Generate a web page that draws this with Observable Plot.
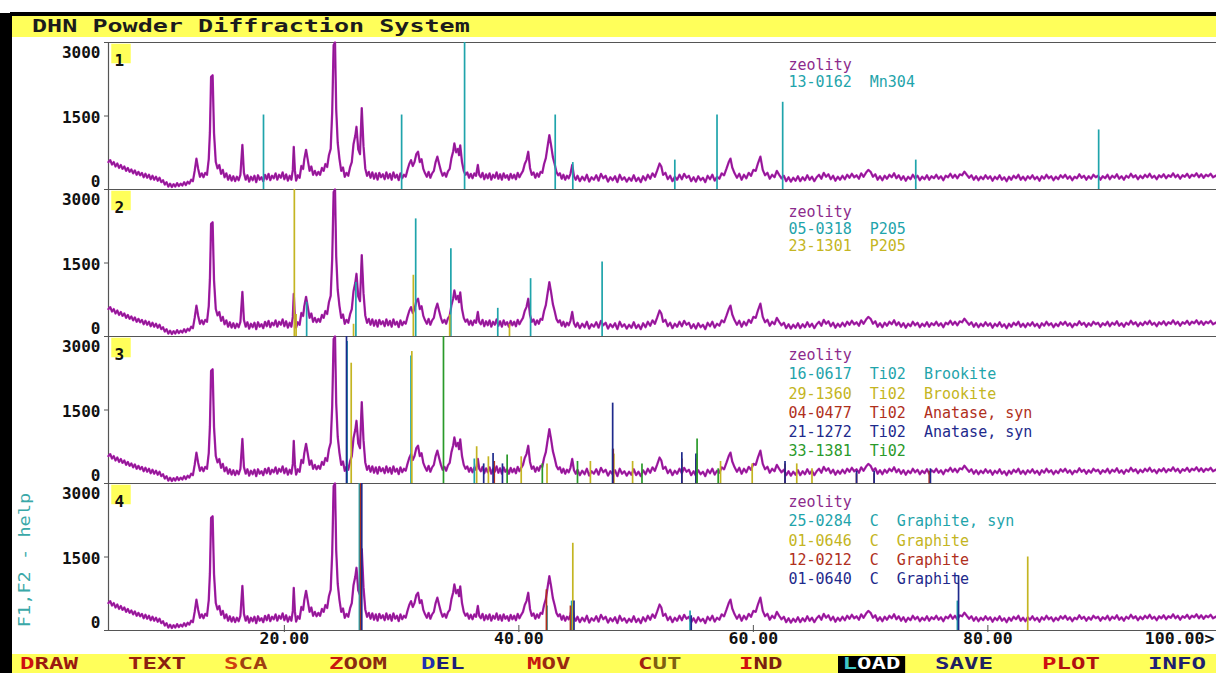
<!DOCTYPE html>
<html>
<head>
<meta charset="utf-8">
<script src="https://cdn.jsdelivr.net/npm/d3@7"></script>
<script src="https://cdn.jsdelivr.net/npm/@observablehq/plot@0.6"></script>
<style>
  html, body { margin:0; padding:0; width:1216px; height:673px; overflow:hidden; background:#fff; }
  .abs { position:absolute; }
  .bar { position:absolute; background:#ffff5a; }
  .dos { position:absolute; font-family:"DejaVu Sans Mono", monospace; white-space:pre; transform-origin:0 0; }
  #chart { position:absolute; left:0; top:0; }
  #chart svg { display:block; overflow:hidden; background:transparent; }
  #chart svg text { white-space: pre; }
</style>
</head>
<body>
<div class="abs" style="left:0;top:13px;width:12px;height:660px;background:#000"></div>
<div class="abs" style="left:10px;top:12px;width:1206px;height:4px;background:#000"></div>
<div class="bar" style="left:12px;top:16px;width:1204px;height:21px"></div>
<div class="dos" style="left:32px;top:17px;font-size:18px;line-height:18px;font-weight:bold;color:#1c1c1c;transform:scaleX(1.393)">DHN Powder Diffraction System</div>
<div class="bar" id="menu" style="left:12px;top:654px;width:1204px;height:19px"></div>
<div class="dos" id="help" style="left:25px;top:560px;font-size:15px;line-height:15px;color:#3aa8a8;transform:translate(-50%,-50%) rotate(-90deg) scaleX(1.24);transform-origin:center">F1,F2 - help</div>
<div id="chart"></div>
<script>
// ---------- data ----------
const sampleName = "zeolity";
const panels = [1, 2, 3, 4];
const yTicks = [0, 1500, 3000];
const xTicks = [20, 40, 60, 80, 100];
const xDomain = [5, 99.5];

// zeolite pattern: [2theta, counts]
const zeolity = [
[5.0,560],[5.15,600],[5.3,510],[5.45,560],[5.6,470],[5.75,530],[5.9,440],[6.05,500],[6.2,420],[6.35,470],[6.5,380],[6.65,440],[6.8,360],[6.95,410],[7.1,330],[7.25,390],[7.4,300],[7.55,360],[7.7,290],[7.85,340],[8.0,250],[8.15,320],[8.3,240],[8.45,300],[8.6,210],[8.75,280],[8.9,200],[9.05,260],[9.2,180],[9.35,240],[9.5,150],[9.65,190],[9.8,100],[9.95,150],[10.1,60],[10.25,120],[10.4,50],[10.55,110],[10.7,60],[10.85,130],[11.0,70],[11.15,120],[11.3,80],[11.45,150],[11.6,90],[11.75,160],[11.9,120],[12.05,200],[12.2,170],[12.35,380],[12.5,630],[12.65,420],[12.8,260],[12.95,330],[13.1,250],[13.25,340],[13.4,300],[13.55,620],[13.65,1170],[13.75,2300],[13.88,2330],[14.0,1150],[14.15,560],[14.3,430],[14.45,500],[14.6,320],[14.75,400],[14.9,250],[15.05,330],[15.2,200],[15.35,290],[15.5,180],[15.65,270],[15.8,170],[15.95,260],[16.1,190],[16.25,300],[16.42,910],[16.55,340],[16.7,200],[16.85,290],[17.0,160],[17.15,260],[17.3,190],[17.45,280],[17.6,150],[17.75,290],[17.9,200],[18.05,250],[18.2,170],[18.35,300],[18.5,210],[18.65,320],[18.8,190],[18.95,280],[19.1,230],[19.25,330],[19.4,200],[19.55,300],[19.7,240],[19.85,350],[20.0,210],[20.15,310],[20.3,180],[20.45,280],[20.6,200],[20.72,400],[20.8,870],[20.9,380],[21.0,180],[21.15,290],[21.3,240],[21.45,480],[21.6,420],[21.7,620],[21.85,810],[22.0,600],[22.15,380],[22.3,470],[22.45,300],[22.6,380],[22.75,290],[22.9,360],[23.05,300],[23.2,440],[23.35,380],[23.5,520],[23.65,460],[23.8,700],[23.95,830],[24.08,1580],[24.2,2950],[24.32,3000],[24.42,1640],[24.55,950],[24.7,620],[24.85,380],[25.0,450],[25.15,260],[25.3,340],[25.45,280],[25.6,450],[25.75,560],[25.9,930],[26.05,1100],[26.15,1280],[26.3,820],[26.45,720],[26.6,1660],[26.75,880],[26.9,430],[27.05,280],[27.2,360],[27.35,240],[27.5,350],[27.65,220],[27.8,330],[27.95,200],[28.1,340],[28.25,250],[28.4,310],[28.55,210],[28.7,350],[28.85,230],[29.0,320],[29.15,200],[29.3,350],[29.45,240],[29.6,300],[29.75,190],[29.9,330],[30.05,230],[30.2,300],[30.35,260],[30.5,400],[30.65,520],[30.8,600],[30.95,480],[31.1,560],[31.25,720],[31.4,770],[31.55,560],[31.7,620],[31.85,420],[32.0,330],[32.15,260],[32.3,360],[32.45,240],[32.6,330],[32.75,380],[32.9,560],[33.05,670],[33.2,520],[33.35,380],[33.5,280],[33.65,340],[33.8,260],[33.95,370],[34.1,420],[34.25,640],[34.4,780],[34.5,940],[34.65,760],[34.8,830],[34.9,700],[35.0,900],[35.15,560],[35.3,380],[35.45,300],[35.6,350],[35.75,240],[35.9,320],[36.05,230],[36.2,330],[36.35,280],[36.5,500],[36.62,300],[36.75,250],[36.9,340],[37.05,210],[37.2,310],[37.35,230],[37.5,330],[37.65,200],[37.8,300],[37.95,240],[38.1,350],[38.25,220],[38.4,310],[38.55,200],[38.7,330],[38.85,240],[39.0,290],[39.15,200],[39.3,320],[39.45,230],[39.6,300],[39.75,210],[39.9,340],[40.05,250],[40.2,320],[40.35,380],[40.5,520],[40.65,600],[40.8,770],[40.95,440],[41.1,300],[41.25,350],[41.4,240],[41.55,330],[41.7,260],[41.85,360],[42.0,340],[42.15,520],[42.3,640],[42.45,880],[42.6,1110],[42.75,900],[42.9,660],[43.05,520],[43.2,360],[43.35,290],[43.5,330],[43.65,220],[43.8,300],[43.95,200],[44.1,280],[44.25,230],[44.4,320],[44.55,500],[44.7,270],[44.85,200],
[45.0,280],[45.2,170],[45.4,260],[45.6,190],[45.8,300],[46.0,160],[46.2,250],[46.4,200],[46.6,290],[46.8,180],[47.0,320],[47.2,230],[47.4,280],[47.6,160],[47.8,250],[48.0,190],[48.2,270],[48.4,150],[48.6,300],[48.8,200],[49.0,250],[49.2,160],[49.4,240],[49.6,180],[49.8,290],[50.0,170],[50.2,240],[50.4,150],[50.6,270],[50.8,190],[51.0,300],[51.2,220],[51.4,330],[51.6,260],[51.8,390],[52.0,530],[52.15,470],[52.3,300],[52.5,340],[52.7,210],[52.9,280],[53.1,170],[53.3,260],[53.5,200],[53.7,300],[53.9,210],[54.1,320],[54.3,240],[54.5,280],[54.7,170],[54.9,250],[55.1,160],[55.3,270],[55.5,190],[55.7,240],[55.9,150],[56.1,280],[56.3,210],[56.5,300],[56.7,180],[56.9,260],[57.1,220],[57.3,330],[57.5,290],[57.7,420],[57.9,560],[58.05,630],[58.2,450],[58.4,330],[58.6,240],[58.8,320],[59.0,200],[59.2,300],[59.4,230],[59.6,340],[59.8,280],[60.0,400],[60.2,380],[60.4,540],[60.6,670],[60.8,400],[61.0,290],[61.2,340],[61.4,220],[61.6,300],[61.8,250],[62.0,380],[62.2,300],[62.4,230],[62.6,280],[62.8,170],[63.0,250],[63.2,160],[63.4,240],[63.6,180],[63.8,270],[64.0,170],[64.2,250],[64.4,190],[64.6,290],[64.8,200],[65.0,260],[65.2,170],[65.4,250],[65.6,300],[65.8,220],[66.0,340],[66.2,260],[66.4,310],[66.6,210],[66.8,280],[67.0,180],[67.2,260],[67.4,200],[67.6,280],[67.8,210],[68.0,300],[68.2,240],[68.4,320],[68.6,250],[68.8,290],[69.0,220],[69.2,330],[69.4,260],[69.6,340],[69.8,400],[70.0,360],[70.2,260],[70.4,310],[70.6,200],[70.8,270],[71.0,190],[71.2,280],[71.4,220],[71.6,300],[71.8,250],[72.0,330],[72.2,230],[72.4,290],[72.6,200],[72.8,270],[73.0,180],[73.2,260],[73.4,210],[73.6,300],[73.8,230],[74.0,280],[74.2,190],[74.4,260],[74.6,210],[74.8,290],[75.0,200],[75.2,270],[75.4,230],[75.6,300],[75.8,220],[76.0,270],[76.2,190],[76.4,280],[76.6,250],[76.8,320],[77.0,240],[77.2,300],[77.4,230],[77.6,310],[77.8,290],[78.0,365],[78.2,300],[78.4,240],[78.6,290],[78.8,200],[79.0,270],[79.2,190],[79.4,260],[79.6,210],[79.8,290],[80.0,220],[80.2,270],[80.4,180],[80.6,260],[80.8,210],[81.0,290],[81.2,200],[81.4,250],[81.6,170],[81.8,260],[82.0,200],[82.2,280],[82.4,230],[82.6,300],[82.8,200],[83.0,260],[83.2,190],[83.4,270],[83.6,220],[83.8,290],[84.0,210],[84.2,260],[84.4,180],[84.6,270],[84.8,220],[85.0,300],[85.2,230],[85.4,270],[85.6,190],[85.8,260],[86.0,210],[86.2,290],[86.4,240],[86.6,300],[86.8,220],[87.0,270],[87.2,190],[87.4,260],[87.6,230],[87.8,310],[88.0,240],[88.2,280],[88.4,200],[88.6,270],[88.8,220],[89.0,300],[89.2,250],[89.4,280],[89.6,200],[89.8,270],[90.0,230],[90.2,300],[90.4,210],[90.6,280],[90.8,240],[91.0,310],[91.2,220],[91.4,270],[91.6,200],[91.8,280],[92.0,240],[92.2,320],[92.4,250],[92.6,290],[92.8,210],[93.0,280],[93.2,230],[93.4,300],[93.6,250],[93.8,320],[94.0,240],[94.2,280],[94.4,210],[94.6,290],[94.8,250],[95.0,310],[95.2,230],[95.4,290],[95.6,260],[95.8,330],[96.0,250],[96.2,300],[96.4,220],[96.6,290],[96.8,260],[97.0,320],[97.2,240],[97.4,300],[97.6,270],[97.8,330],[98.0,250],[98.2,310],[98.4,240],[98.6,300],[98.8,270],[99.0,320],[99.2,250],[99.5,290]
];

// reference cards (stick patterns), [2theta, intensity]
const lines_13_0162 = [[18.22,1520],[30.0,1520],[35.37,3000],[43.1,1520],[44.6,550],[53.3,600],[56.9,1520],[62.5,1780],[73.85,600],[89.45,1215]];
const lines_05_0318 = [[21.9,700],[26.1,1100],[31.2,2400],[34.2,1790],[38.2,575],[41.0,1180],[47.1,1520]];
const lines_23_1301 = [[20.85,3000],[21.0,450],[31.0,1250],[34.1,440],[25.9,250],[39.2,250]];
const lines_16_0617 = [[25.35,2900],[30.8,2600],[36.2,500],[48.0,700],[55.2,600]];
const lines_29_1360 = [[25.7,2455],[30.87,2693],[36.4,750],[37.4,545],[40.2,545],[42.4,400],[46.1,450],[48.1,600],[49.7,450],[55.2,500],[57.2,450],[59.9,400],[63.7,400],[65.0,300]];
const lines_04_0477 = [[37.9,450],[48.05,700],[53.9,500],[55.1,500],[62.7,400],[68.8,200],[70.3,200],[75.0,250]];
const lines_21_1272 = [[25.3,3000],[37.0,400],[37.8,614],[38.6,400],[48.0,1640],[53.9,630],[55.1,600],[62.7,450],[68.8,250],[70.3,250],[75.1,300]];
const lines_33_1381 = [[33.57,3000],[39.0,580],[42.0,400],[45.0,450],[50.5,400],[55.2,910],[57.0,300]];
const lines_25_0284 = [[26.4,3000],[42.4,500],[44.5,600],[54.6,400],[77.4,600]];
const lines_01_0646 = [[26.55,3000],[44.6,1780],[83.4,1500]];
const lines_12_0212 = [[26.5,3000],[42.35,830],[44.4,500]];
const lines_01_0640 = [[26.6,3000],[44.7,600],[54.7,300],[77.5,1115]];

const cyan = "#1fa4ab", yellow = "#c4b522", red = "#b0301c", blue = "#1e2a8c", green = "#2a9a2a";
const purple = "#b01cb2", purpleDark = "#7a1e7e", purpleText = "#8c2a8c";

const cardPanel   = [1, 2, 2, 3, 3, 3, 3, 3, 4, 4, 4, 4];
const cardCode    = ["13-0162","05-0318","23-1301","16-0617","29-1360","04-0477","21-1272","33-1381","25-0284","01-0646","12-0212","01-0640"];
const cardFormula = ["Mn304","P205","P205","Ti02","Ti02","Ti02","Ti02","Ti02","C","C","C","C"];
const cardName    = ["","","","Brookite","Brookite","Anatase, syn","Anatase, syn","","Graphite, syn","Graphite","Graphite","Graphite"];
const cardColor   = [cyan, cyan, yellow, cyan, yellow, red, blue, green, cyan, yellow, red, blue];
const cardLines   = [lines_13_0162, lines_05_0318, lines_23_1301, lines_16_0617, lines_29_1360, lines_04_0477, lines_21_1272, lines_33_1381, lines_25_0284, lines_01_0646, lines_12_0212, lines_01_0640];

const menuItems = ["DRAW","TEXT","SCA","ZOOM","DEL","MOV","CUT","IND","LOAD","SAVE","PLOT","INFO"];

// ---------- layout / style ----------
const frameColor = "#555";
const mono = "DejaVu Sans Mono";
const legendTop = [17, 17, 13, 13];
const legendStep = [16.5, 17, 19.2, 19.2];
const menuLeft = [20,128,224,329,421,527,638,739,838,935,1042,1148];
const menuHot  = ["#d01010","#9a2010","#d04010","#c81810","#2030b0","#c81810","#a02010","#d01010","#40c8c8","#202070","#d01010","#202078"];
const menuRest = ["#9a1a10","#8a2010","#a04010","#8a2a10","#1c1c78","#9a2a10","#806010","#7a2010","#ffffff","#202060","#b01010","#1c2070"];

// ---------- build tables ----------
const stickRows = cardCode.flatMap((code, i) =>
  cardLines[i].map(([t, c]) => ({panel: cardPanel[i], t, c, color: cardColor[i]})));

const legendRows = panels.flatMap(p => {
  const rows = [{panel: p, k: 0, label: sampleName, color: purpleText}];
  cardCode.forEach((code, i) => {
    if (cardPanel[i] !== p) return;
    let label = code + "  " + cardFormula[i];
    if (cardName[i]) label += "  " + cardName[i];
    rows.push({panel: p, k: rows.length, label, color: cardColor[i]});
  });
  return rows;
});

const lastPanel = panels[panels.length - 1];

const marks = [
  Plot.ruleY([yTicks[0], yTicks[yTicks.length - 1]], {stroke: frameColor, strokeWidth: 1.2}),
  Plot.ruleX([xDomain[0]], {stroke: frameColor, strokeWidth: 1.2}),
  Plot.axisY(yTicks, {tickSize: 4, tickFormat: () => "", stroke: frameColor, label: null}),
  Plot.line(zeolity, {x: d => d[0], y: d => d[1], stroke: purple, strokeWidth: 2.3}),
  Plot.line(zeolity, {x: d => d[0], y: d => d[1], stroke: purpleDark, strokeWidth: 0.9, strokeOpacity: 0.85}),
  Plot.ruleX(stickRows, {fy: "panel", x: "t", y1: 0, y2: "c", stroke: "color", strokeWidth: 1.7}),
  Plot.dot(panels, {fy: d => d, frameAnchor: "top-left", dx: 12.5, dy: 11, symbol: "square", r: 11, fill: "#ffff5a"}),
  Plot.text(panels, {fy: d => d, text: d => String(d), frameAnchor: "top-left", dx: 6, dy: 12, textAnchor: "start",
    fontFamily: mono, fontWeight: "bold", fontSize: 16, fill: "#111", ariaLabel: "panelnum"}),
  Plot.text(yTicks.filter(v => v === 3000), {y: d => d, text: d => String(d), frameAnchor: "left", dx: -8, dy: 10.5,
    textAnchor: "end", fontFamily: mono, fontWeight: "bold", fontSize: 16, fill: "#111", ariaLabel: "ylab"}),
  Plot.text(yTicks.filter(v => v === 1500), {y: d => d, text: d => String(d), frameAnchor: "left", dx: -8, dy: 2,
    textAnchor: "end", fontFamily: mono, fontWeight: "bold", fontSize: 16, fill: "#111", ariaLabel: "ylab"}),
  Plot.text(yTicks.filter(v => v === 0), {y: d => d, text: d => String(d), frameAnchor: "left", dx: -8, dy: -8,
    textAnchor: "end", fontFamily: mono, fontWeight: "bold", fontSize: 16, fill: "#111", ariaLabel: "ylab"}),
  Plot.ruleX(xTicks.filter(v => v < 100), {fy: () => lastPanel, x: d => d, y1: 0, y2: 0, insetTop: -5, insetBottom: -2, stroke: frameColor}),
  Plot.text(xTicks.filter(v => v < 100), {fy: () => lastPanel, x: d => d, text: d => d.toFixed(2), frameAnchor: "bottom", dy: 13,
    fontFamily: mono, fontWeight: "bold", fontSize: 16.5, fill: "#111", ariaLabel: "xlab"}),
  Plot.text(xTicks.filter(v => v >= 100), {fy: () => lastPanel, x: d => d, text: d => d.toFixed(2) + ">", frameAnchor: "bottom", dy: 13, dx: -8,
    textAnchor: "end", fontFamily: mono, fontWeight: "bold", fontSize: 16.5, fill: "#111", ariaLabel: "xlab2"}),
  ...legendRows.map(r => Plot.text([r], {fy: "panel", text: "label", fill: "color", frameAnchor: "top-left",
    dx: 680, dy: legendTop[r.panel - 1] + r.k * legendStep[r.panel - 1], textAnchor: "start",
    fontFamily: mono, fontSize: 15, ariaLabel: "legend"}))
];

const chart = Plot.plot({
  width: 1216, height: 673,
  marginLeft: 108, marginRight: 0, marginTop: 40, marginBottom: 42,
  x: {domain: xDomain, axis: null},
  y: {domain: [yTicks[0], yTicks[yTicks.length - 1]], label: null},
  fy: {domain: panels, padding: 0, axis: null},
  style: {background: "transparent", overflow: "hidden"},
  marks
});
document.getElementById("chart").appendChild(chart);

// stretch the monospace glyphs to the wide DOS character cells
function stretch(label, charW) {
  chart.querySelectorAll(`g[aria-label="${label}"] text`).forEach(t => {
    const n = t.textContent.length;
    t.setAttribute("textLength", n * charW);
    t.setAttribute("lengthAdjust", "spacingAndGlyphs");
  });
}
stretch("ylab", 14.3);
stretch("xlab", 14.8);
stretch("xlab2", 14.0);
stretch("legend", 11.2);

// menu bar
menuItems.forEach((w, i) => {
  const d = document.createElement("div");
  d.className = "dos";
  d.style.left = menuLeft[i] + "px";
  d.style.top = "656px";
  d.style.fontSize = "16.5px";
  d.style.lineHeight = "16.5px";
  d.style.fontWeight = "bold";
  d.style.transform = "scaleX(1.46)";
  if (w === "LOAD") { d.style.background = "#000"; d.style.padding = "0 3px"; }
  d.innerHTML = `<span style="color:${menuHot[i]}">${w[0]}</span><span style="color:${menuRest[i]}">${w.slice(1)}</span>`;
  document.body.appendChild(d);
});
</script>
</body>
</html>
